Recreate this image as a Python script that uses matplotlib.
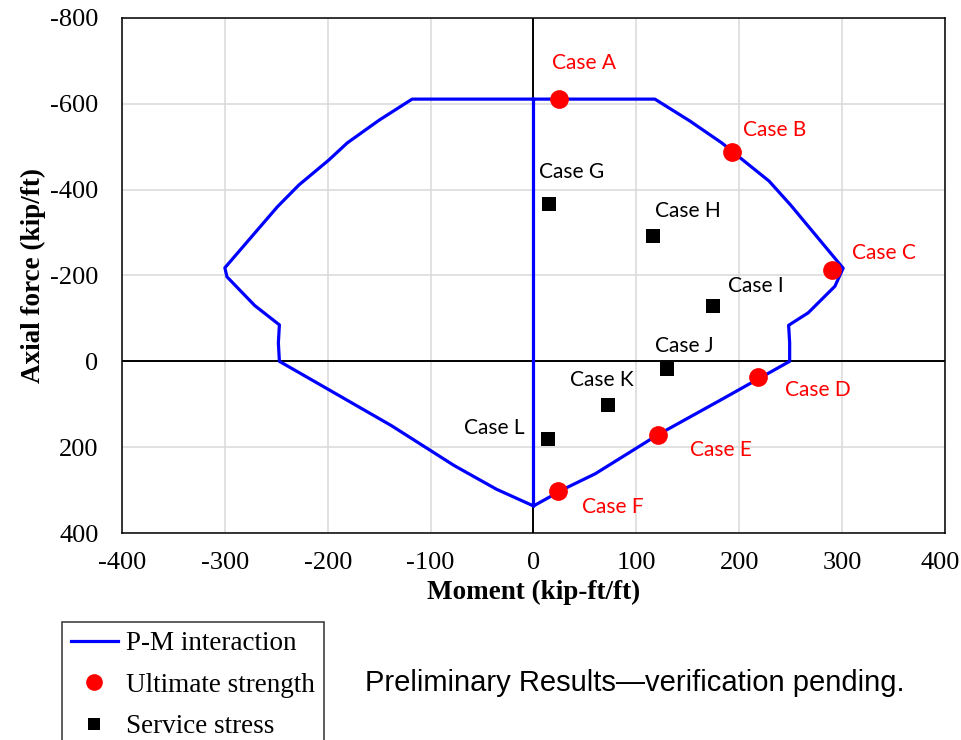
import numpy as np
import matplotlib
matplotlib.use('Agg')
import matplotlib.pyplot as plt
import matplotlib.transforms as mtransforms
from matplotlib.lines import Line2D

# P-M interaction diagram (moment, axial force), one continuous polyline
pm_M = [0, 118, 152, 183, 202, 229, 250, 301, 293, 267, 248, 249, 249,
        185, 121, 60, 30, 0,
        0, -118, -150, -181, -199, -228, -249, -300, -298, -271, -247, -248, -247,
        -199, -138, -77, -36, 0]
pm_P = [-611, -611, -560, -509, -472, -420, -364, -217, -175, -113, -84, -43, 0,
        86, 171, 262, 297, 337,
        -611, -611, -562, -509, -469, -411, -360, -218, -197, -130, -85, -43, 0,
        66, 150, 243, 298, 337]

# ultimate strength cases
ult_names = ['Case A', 'Case B', 'Case C', 'Case D', 'Case E', 'Case F']
ult_M = [24.5, 193, 290, 218, 121, 24]
ult_P = [-611, -488, -213, 36, 171, 301]
ult_off = [(18, 26), (31, 15.5), (37.5, 12), (43, -9.5), (45, -11), (39, -12)]

# service stress cases
svc_names = ['Case G', 'Case H', 'Case I', 'Case J', 'Case K', 'Case L']
svc_M = [14.7, 116, 174, 130, 72, 14.4]
svc_P = [-367, -291, -128, 19, 102, 182]
svc_off = [(16.5, 23), (25, 18), (31, 14.5), (12, 17), (-4.5, 18), (-39, 8)]

x_ticks = [-400, -300, -200, -100, 0, 100, 200, 300, 400]
y_ticks = [-800, -600, -400, -200, 0, 200, 400]

serif = 'Liberation Serif'
fig = plt.figure(figsize=(9.62, 7.40), dpi=100)
ax = fig.add_axes([122 / 962, 1 - 533 / 740, 823 / 962, 515 / 740])

ax.set_xlim(-400, 400)
ax.set_ylim(400, -800)
ax.set_xticks(x_ticks)
ax.set_yticks(y_ticks)
ax.set_xticklabels([str(v) for v in x_ticks], family=serif, fontsize=19)
ax.set_yticklabels([str(v) for v in y_ticks], family=serif, fontsize=19)
ax.tick_params(length=0, pad=17)
ax.tick_params(axis='x', pad=14)
ax.grid(True, color='#d9d9d9', linewidth=1.1)
ax.set_axisbelow(True)
for s in ax.spines.values():
    s.set_color('black')
    s.set_linewidth(1.1)

# keep the last x tick label inside the canvas
last = ax.get_xticklabels()[-1]
last.set_transform(last.get_transform() + mtransforms.ScaledTranslation(-5 / 100, 0, fig.dpi_scale_trans))

# zero axes
ax.axhline(0, color='black', linewidth=1.4, zorder=1)
ax.axvline(0, color='black', linewidth=1.4, zorder=1)

ax.plot(pm_M, pm_P, color='#0000ff', linewidth=2.3, zorder=3)
ax.plot(ult_M, ult_P, 'o', color='#ff0000', markersize=13.5, zorder=4, markeredgewidth=0)
ax.plot(svc_M, svc_P, 's', color='black', markersize=10.5, zorder=4, markeredgewidth=0)

for n, m, p, o in zip(ult_names, ult_M, ult_P, ult_off):
    ax.annotate(n, (m, p), xytext=o, textcoords='offset points', ha='center', va='center',
                color='#ff0000', family='Lato', fontsize=15)
for n, m, p, o in zip(svc_names, svc_M, svc_P, svc_off):
    ax.annotate(n, (m, p), xytext=o, textcoords='offset points', ha='center', va='center',
                color='black', family='Lato', fontsize=15)

ax.set_xlabel('Moment (kip-ft/ft)', family=serif, fontsize=19.5, fontweight='bold', labelpad=4)
ax.set_ylabel('Axial force (kip/ft)', family=serif, fontsize=19.5, fontweight='bold', labelpad=3)

# legend
handles = [Line2D([], [], color='#0000ff', linewidth=2.3),
           Line2D([], [], ls='none', marker='o', color='#ff0000', markersize=12, markeredgewidth=0),
           Line2D([], [], ls='none', marker='s', color='black', markersize=9, markeredgewidth=0)]
leg = fig.legend(handles, ['P-M interaction', 'Ultimate strength', 'Service stress'],
                 loc='upper left', bbox_to_anchor=(62 / 962, 1 - 622 / 740),
                 prop={'family': serif, 'size': 19.5}, frameon=True, fancybox=False,
                 borderaxespad=0, borderpad=0.35, labelspacing=0.6,
                 handlelength=1.7, handletextpad=0.3)
leg.get_frame().set_edgecolor('black')
leg.get_frame().set_linewidth(1.1)

fig.text(365 / 962, 1 - 683 / 740, 'Preliminary Results\u2014verification pending.',
         family='Liberation Sans', fontsize=21, va='center', ha='left')

fig.savefig('out.png', dpi=100)
